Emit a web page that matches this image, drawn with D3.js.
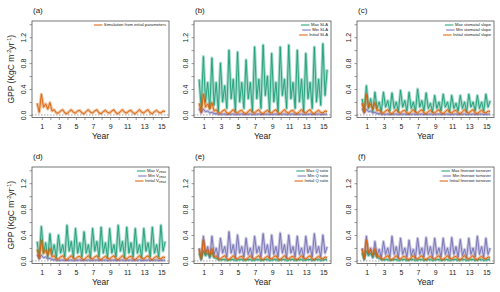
<!DOCTYPE html>
<html>
<head>
<meta charset="utf-8">
<script src="https://cdn.jsdelivr.net/npm/d3@7"></script>
<style>
  body { margin: 0; background: #fff; }
  text { font-family: "Liberation Sans", Arial, sans-serif; fill: #222; }
</style>
</head>
<body>
<div id="chart"></div>
<script>

let width = 500;
let height = 292;

// sampling grid of the simulations (years), one point every quarter
const startYear = 0.45;
const stepYear = 0.25;

// GPP values
const initialRun = [0.18, 0.04, 0.32, 0.12, 0.17, 0.09, 0.19, 0.06, 0.08, 0.03,
    0.03, 0.06, 0.08, 0.03, 0.02, 0.05, 0.08, 0.04, 0.03, 0.06, 0.07, 0.03,
    0.02, 0.05, 0.08, 0.04, 0.03, 0.06, 0.08, 0.03, 0.02, 0.05, 0.07, 0.04,
    0.03, 0.06, 0.08, 0.03, 0.02, 0.05, 0.08, 0.04, 0.03, 0.06, 0.07, 0.03,
    0.02, 0.05, 0.08, 0.04, 0.03, 0.06, 0.08, 0.03, 0.02, 0.05, 0.07, 0.04,
    0.03, 0.06, 0.05];

const minLowRun = [0.1, 0.03, 0.09, 0.05, 0.06, 0.03, 0.04, 0.02, 0.02, 0.01,
    0.01, 0.01, 0.015, 0.005, 0.01, 0.01, 0.015, 0.005, 0.01, 0.01, 0.015, 0.005,
    0.01, 0.01, 0.015, 0.005, 0.01, 0.01, 0.015, 0.005, 0.01, 0.01, 0.015, 0.005,
    0.01, 0.01, 0.015, 0.005, 0.01, 0.01, 0.015, 0.005, 0.01, 0.01, 0.015, 0.005,
    0.01, 0.01, 0.015, 0.005, 0.01, 0.01, 0.015, 0.005, 0.01, 0.01, 0.015, 0.005,
    0.01, 0.01, 0.015];

const maxLowRun = [0.12, 0.03, 0.15, 0.08, 0.12, 0.06, 0.13, 0.05, 0.04, 0.02,
    0.015, 0.02, 0.02, 0.01, 0.015, 0.02, 0.02, 0.01, 0.015, 0.02, 0.02, 0.01,
    0.015, 0.02, 0.02, 0.01, 0.015, 0.02, 0.02, 0.01, 0.015, 0.02, 0.02, 0.01,
    0.015, 0.02, 0.02, 0.01, 0.015, 0.02, 0.02, 0.01, 0.015, 0.02, 0.02, 0.01,
    0.015, 0.02, 0.02, 0.01, 0.015, 0.02, 0.02, 0.01, 0.015, 0.02, 0.02, 0.01,
    0.015, 0.02, 0.02];

const maxSLA = [0.55, 0.1,
    0.9, 0.2, 0.5, 0.1, 0.88, 0.15, 0.5, 0.05, 0.8, 0.2, 0.45, 0.1,
    1.0, 0.25, 0.55, 0.05, 0.97, 0.2, 0.5, 0.1, 0.85, 0.25, 0.5, 0.05,
    1.05, 0.25, 0.55, 0.1, 1.08, 0.3, 0.6, 0.05, 0.95, 0.2, 0.5, 0.05,
    1.05, 0.3, 0.55, 0.1, 1.08, 0.25, 0.5, 0.1, 1.0, 0.2, 0.55, 0.05,
    0.95, 0.25, 0.5, 0.1, 1.05, 0.2, 0.55, 0.15, 1.1, 0.3, 0.7];

const maxSlope = [0.25, 0.05,
    0.45, 0.1, 0.25, 0.05, 0.35, 0.1, 0.2, 0.05, 0.35, 0.12, 0.22, 0.06,
    0.34, 0.1, 0.2, 0.05, 0.38, 0.12, 0.22, 0.06, 0.35, 0.1, 0.2, 0.05,
    0.4, 0.12, 0.22, 0.06, 0.34, 0.1, 0.18, 0.05, 0.3, 0.1, 0.2, 0.06,
    0.32, 0.12, 0.2, 0.05, 0.3, 0.1, 0.18, 0.06, 0.3, 0.1, 0.2, 0.05,
    0.32, 0.12, 0.2, 0.06, 0.3, 0.1, 0.2, 0.06, 0.32, 0.12, 0.22];

const maxVcmax = [0.3, 0.05,
    0.53, 0.12, 0.28, 0.05, 0.42, 0.1, 0.25, 0.05, 0.4, 0.12, 0.25, 0.06,
    0.55, 0.15, 0.3, 0.05, 0.5, 0.12, 0.28, 0.06, 0.45, 0.12, 0.25, 0.05,
    0.5, 0.15, 0.3, 0.06, 0.52, 0.12, 0.28, 0.05, 0.5, 0.12, 0.25, 0.06,
    0.55, 0.15, 0.3, 0.05, 0.52, 0.12, 0.28, 0.06, 0.5, 0.12, 0.25, 0.05,
    0.5, 0.15, 0.28, 0.06, 0.52, 0.12, 0.25, 0.06, 0.55, 0.15, 0.3];

const minQratio = [0.2, 0.02,
    0.38, 0.1, 0.22, 0.05, 0.38, 0.1, 0.2, 0.05, 0.35, 0.12, 0.22, 0.06,
    0.45, 0.12, 0.25, 0.05, 0.4, 0.12, 0.22, 0.06, 0.35, 0.1, 0.2, 0.05,
    0.38, 0.12, 0.22, 0.06, 0.42, 0.12, 0.25, 0.05, 0.4, 0.1, 0.22, 0.06,
    0.43, 0.12, 0.25, 0.05, 0.4, 0.12, 0.22, 0.06, 0.38, 0.1, 0.2, 0.05,
    0.38, 0.12, 0.22, 0.06, 0.42, 0.12, 0.22, 0.06, 0.4, 0.12, 0.22];

const minFineroot = [0.2, 0.02,
    0.38, 0.1, 0.2, 0.05, 0.3, 0.08, 0.18, 0.05, 0.3, 0.1, 0.2, 0.06,
    0.38, 0.1, 0.22, 0.05, 0.35, 0.1, 0.2, 0.06, 0.32, 0.08, 0.18, 0.05,
    0.35, 0.1, 0.2, 0.06, 0.36, 0.1, 0.22, 0.05, 0.35, 0.1, 0.2, 0.06,
    0.35, 0.1, 0.2, 0.05, 0.36, 0.1, 0.22, 0.06, 0.33, 0.08, 0.18, 0.05,
    0.35, 0.1, 0.2, 0.06, 0.38, 0.1, 0.22, 0.06, 0.35, 0.1, 0.2];

const yearTicks = d3.range(1, 16);
const yearLabels = [1, 3, 5, 7, 9, 11, 13, 15];
const gppTicks = [0, 0.2, 0.4, 0.6, 0.8, 1.0, 1.2, 1.4];
const gppLabels = [0, 0.4, 0.8, 1.2];

const colMax = "#1b9e77";
const colMin = "#7570b3";
const colInit = "#d95f02";

const panels = [
    { tag: "(a)", col: 0, row: 0, ylab: true,
      legend: [["Simulation from initial parameters", colInit]],
      series: [[initialRun, colInit]] },
    { tag: "(b)", col: 1, row: 0,
      legend: [["Max SLA", colMax], ["Min SLA", colMin], ["Initial SLA", colInit]],
      series: [[maxSLA, colMax], [minLowRun, colMin], [initialRun, colInit]] },
    { tag: "(c)", col: 2, row: 0,
      legend: [["Max stomatal slope", colMax], ["Min stomatal slope", colMin], ["Initial stomatal slope", colInit]],
      series: [[maxSlope, colMax], [minLowRun, colMin], [initialRun, colInit]] },
    { tag: "(d)", col: 0, row: 1, ylab: true, sub: true,
      legend: [["Max V", colMax], ["Min V", colMin], ["Initial V", colInit]],
      series: [[maxVcmax, colMax], [minLowRun, colMin], [initialRun, colInit]] },
    { tag: "(e)", col: 1, row: 1,
      legend: [["Max Q ratio", colMax], ["Min Q ratio", colMin], ["Initial Q ratio", colInit]],
      series: [[minQratio, colMin], [maxLowRun, colMax], [initialRun, colInit]] },
    { tag: "(f)", col: 2, row: 1,
      legend: [["Max fineroot turnover", colMax], ["Min fineroot turnover", colMin], ["Initial fineroot turnover", colInit]],
      series: [[minFineroot, colMin], [maxLowRun, colMax], [initialRun, colInit]] }
];

const colLeft = [32, 194, 357];
const rowTop = [21, 167];
const pw = 137;
const ph = 96.5;

let svg = d3.select("#chart")
    .append("svg")
    .attr("width", width)
    .attr("height", height);

let scaleX = d3.scaleLinear().domain([-0.15, 15.9]).range([0, pw]);
let scaleY = d3.scaleLinear().domain([-0.04, 1.45]).range([ph, 0]);

panels.forEach(p => {
    let g = svg.append("g")
        .attr("transform", "translate(" + colLeft[p.col] + "," + rowTop[p.row] + ")");

    // zero line
    g.append("line")
        .attr("x1", 0).attr("x2", pw)
        .attr("y1", scaleY(0)).attr("y2", scaleY(0))
        .attr("stroke", "#666")
        .attr("stroke-width", 0.6)
        .attr("stroke-dasharray", "1.5,1.5");

    let line = d3.line()
        .x((d, i) => scaleX(startYear + i * stepYear))
        .y(d => scaleY(d));

    p.series.forEach(s => {
        g.append("path")
            .attr("d", line(s[0]))
            .attr("fill", "none")
            .attr("stroke", s[1])
            .attr("stroke-width", 3)
            .attr("stroke-linejoin", "round")
            .attr("opacity", 0.4);
        g.append("path")
            .attr("d", line(s[0]))
            .attr("fill", "none")
            .attr("stroke", s[1])
            .attr("stroke-width", 0.9)
            .attr("stroke-linejoin", "round");
    });

    // frame
    g.append("rect")
        .attr("width", pw).attr("height", ph)
        .attr("fill", "none")
        .attr("stroke", "#555")
        .attr("stroke-width", 0.8);

    // x axis
    let xAxis = g.append("g")
        .attr("transform", "translate(0," + ph + ")")
        .call(d3.axisBottom(scaleX).tickValues(yearTicks).tickSize(2.5)
            .tickFormat(d => yearLabels.includes(d) ? d : ""));
    xAxis.select(".domain").remove();
    xAxis.selectAll("line").attr("stroke", "#555").attr("stroke-width", 0.6);
    xAxis.selectAll("text").attr("font-size", 7).attr("dy", "0.8em").attr("fill", "#222");

    // y axis
    let yAxis = g.append("g")
        .call(d3.axisLeft(scaleY).tickValues(gppTicks).tickSize(2.5)
            .tickFormat(d => gppLabels.includes(d) ? d3.format(".1f")(d) : ""));
    yAxis.select(".domain").remove();
    yAxis.selectAll("line").attr("stroke", "#555").attr("stroke-width", 0.6);
    yAxis.selectAll("text")
        .attr("font-size", 7)
        .attr("fill", "#222")
        .attr("x", null).attr("dy", null)
        .attr("text-anchor", "middle")
        .attr("transform", "translate(-6,0) rotate(-90)");

    g.append("text")
        .attr("x", pw / 2)
        .attr("y", ph + 21)
        .attr("text-anchor", "middle")
        .attr("font-size", 8.5)
        .text("Year");

    g.append("text")
        .attr("x", 1)
        .attr("y", -8)
        .attr("font-size", 8)
        .text(p.tag);

    if (p.ylab) {
        let t = g.append("text")
            .attr("transform", "translate(-18," + (ph / 2) + ") rotate(-90)")
            .attr("text-anchor", "middle")
            .attr("font-size", 8.5);
        t.append("tspan").text("GPP (KgC m");
        t.append("tspan").attr("dy", -3.5).attr("font-size", 5.5).text("-2");
        t.append("tspan").attr("dy", 3.5).text("yr");
        t.append("tspan").attr("dy", -3.5).attr("font-size", 5.5).text("-1");
        t.append("tspan").attr("dy", 3.5).text(")");
    }

    // legend
    let leg = g.append("g")
        .attr("transform", "translate(" + (pw - 3) + ",4)");
    p.legend.forEach((l, i) => {
        let txt = leg.append("text")
            .attr("x", 0)
            .attr("y", i * 5)
            .attr("dy", "0.35em")
            .attr("text-anchor", "end")
            .attr("font-size", 4.2)
            .text(l[0]);
        if (p.sub) {
            txt.append("tspan").attr("font-size", 3).attr("dy", 1).text("cmax");
        }
        let w = txt.node().getComputedTextLength();
        leg.append("line")
            .attr("x1", -w - 10).attr("x2", -w - 1.5)
            .attr("y1", i * 5).attr("y2", i * 5)
            .attr("stroke", l[1])
            .attr("stroke-width", 1);
    });
});

</script>
</body>
</html>
